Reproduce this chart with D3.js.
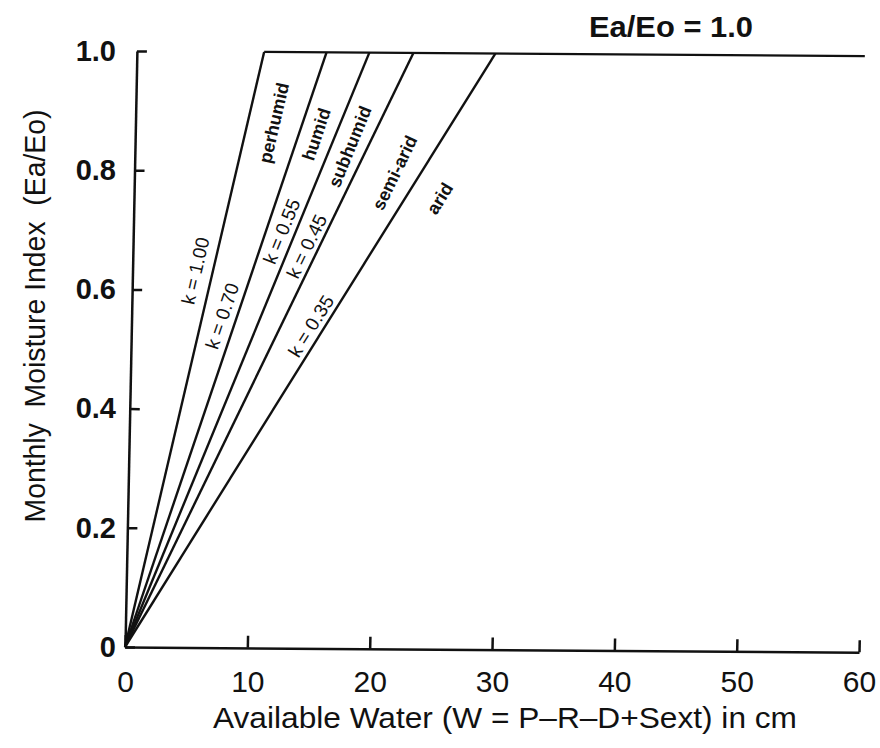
<!DOCTYPE html>
<html>
<head>
<meta charset="utf-8">
<script src="https://cdn.jsdelivr.net/npm/d3@7"></script>
<style>
  body { margin: 0; background: #fff; }
  svg { display: block; font-family: "Liberation Sans", Arial, sans-serif; }
  .axis-lines path, .axis-lines line { stroke: #111; stroke-width: 2.5; }
  .curve { fill: none; stroke: #111; stroke-width: 2.4; stroke-linejoin: round; }
  .tick-labels text { fill: #111; }
</style>
</head>
<body>
<svg></svg>
<script>
// Data
const xTicks = [0, 10, 20, 30, 40, 50, 60];
const yTicks = [0, 0.2, 0.4, 0.6, 0.8, 1.0];
const climates = ["perhumid", "humid", "subhumid", "semi-arid", "arid"];
const kValues = [1.00, 0.70, 0.55, 0.45, 0.35];
// available water (cm) where each line reaches Ea/Eo = 1.0
const breakW = [10.4, 15.5, 19.0, 22.6, 29.3];
const plateauEnd = 59.5;

document.addEventListener("DOMContentLoaded", function () {
  const w = 880;
  const h = 748;

  const svg = d3.select("svg")
    .attr("width", w)
    .attr("height", h);

  const x = d3.scaleLinear().domain([0, 60]).range([125, 859]);
  const y = d3.scaleLinear().domain([0, 1]).range([647, 51]);

  // the scanned drawing leans a little: y axis tilts right, x axis dips right
  const ox = x(0), oy = y(0);
  const plot = svg.append("g")
    .attr("transform", `translate(${ox},${oy}) matrix(1,0.007,-0.02,1,0,0) translate(${-ox},${-oy})`);

  // axes (lines and ticks only)
  plot.append("g")
    .attr("class", "axis-lines")
    .attr("transform", `translate(0,${oy})`)
    .call(d3.axisBottom(x).tickValues(xTicks).tickSizeInner(-12).tickSizeOuter(0).tickFormat(""));

  plot.append("g")
    .attr("class", "axis-lines")
    .attr("transform", `translate(${ox},0)`)
    .call(d3.axisLeft(y).tickValues(yTicks).tickSizeInner(-10).tickSizeOuter(0).tickFormat(""));

  // sloping lines, one per k value
  const line = d3.line().x((d) => x(d[0])).y((d) => y(d[1]));
  plot.selectAll(".curve-k")
    .data(breakW)
    .enter()
    .append("path")
    .attr("class", "curve curve-k")
    .attr("d", (b) => line([[0, 0], [b, 1]]));

  // plateau Ea/Eo = 1.0
  plot.append("path")
    .attr("class", "curve")
    .attr("d", line([[d3.min(breakW), 1], [plateauEnd, 1]]));

  // labels along the lines: position as fraction of Ea/Eo + perpendicular offset (px)
  const zoneLayout = [
    { t: 0.89, off: 26 },
    { t: 0.871, off: 17 },
    { t: 0.853, off: 18 },
    { t: 0.824, off: 36 },
    { t: 0.782, off: 30 }
  ];
  const kLayout = [
    { t: 0.626, off: -17 },
    { t: 0.549, off: -14 },
    { t: 0.691, off: -13 },
    { t: 0.666, off: -11.5 },
    { t: 0.53, off: -12 }
  ];

  const placeOnLine = (i, t, off) => {
    const dx = x(breakW[i]) - x(0);
    const dy = y(0) - y(1);
    const th = Math.atan2(dy, dx);
    const px = x(breakW[i] * t) + off * Math.sin(th);
    const py = y(t) + off * Math.cos(th);
    return `translate(${px},${py}) rotate(${-th * 180 / Math.PI})`;
  };

  plot.selectAll(".zone-label")
    .data(climates)
    .enter()
    .append("text")
    .attr("class", "zone-label")
    .attr("transform", (d, i) => placeOnLine(i, zoneLayout[i].t, zoneLayout[i].off))
    .attr("text-anchor", "middle")
    .attr("dominant-baseline", "central")
    .style("font-size", "18px")
    .style("font-weight", "bold")
    .attr("fill", "#111")
    .text((d) => d);

  plot.selectAll(".k-label")
    .data(kValues)
    .enter()
    .append("text")
    .attr("class", "k-label")
    .attr("transform", (d, i) => placeOnLine(i, kLayout[i].t, kLayout[i].off))
    .attr("text-anchor", "middle")
    .attr("dominant-baseline", "central")
    .style("font-size", "19px")
    .attr("fill", "#111")
    .text((d) => `k = ${d3.format(".2f")(d)}`);

  // tick labels (not leaning, as in the figure)
  const yl = svg.append("g")
    .attr("class", "tick-labels")
    .attr("transform", "translate(116,0)")
    .call(d3.axisLeft(y).tickValues(yTicks).tickSize(0).tickPadding(0)
      .tickFormat((d) => d === 0 ? "0" : d3.format(".1f")(d)));
  yl.select(".domain").remove();
  yl.selectAll("text").style("font-size", "29px").style("font-weight", "bold")
    .style("font-family", "'Liberation Sans', Arial, sans-serif");

  const xl = svg.append("g")
    .attr("class", "tick-labels")
    .attr("transform", `translate(0,${oy})`)
    .call(d3.axisBottom(x).tickValues(xTicks).tickSize(0).tickPadding(24));
  xl.select(".domain").remove();
  xl.selectAll("text").style("font-size", "30px")
    .style("font-family", "'Liberation Sans', Arial, sans-serif");

  // titles
  svg.append("text")
    .attr("x", 505)
    .attr("y", 728)
    .attr("text-anchor", "middle")
    .attr("textLength", 584)
    .attr("lengthAdjust", "spacingAndGlyphs")
    .style("font-size", "30px")
    .attr("fill", "#111")
    .text("Available Water (W = P\u2013R\u2013D+Sext) in cm");

  svg.append("text")
    .attr("transform", "translate(45,316) rotate(-90)")
    .attr("text-anchor", "middle")
    .attr("textLength", 413)
    .attr("lengthAdjust", "spacingAndGlyphs")
    .style("font-size", "30px")
    .attr("fill", "#111")
    .attr("xml:space", "preserve")
    .text("Monthly  Moisture Index  (Ea/Eo)");

  svg.append("text")
    .attr("x", 589)
    .attr("y", 37)
    .attr("textLength", 164)
    .attr("lengthAdjust", "spacingAndGlyphs")
    .style("font-size", "30px")
    .style("font-weight", "bold")
    .attr("fill", "#111")
    .text("Ea/Eo = 1.0");
});
</script>
</body>
</html>
